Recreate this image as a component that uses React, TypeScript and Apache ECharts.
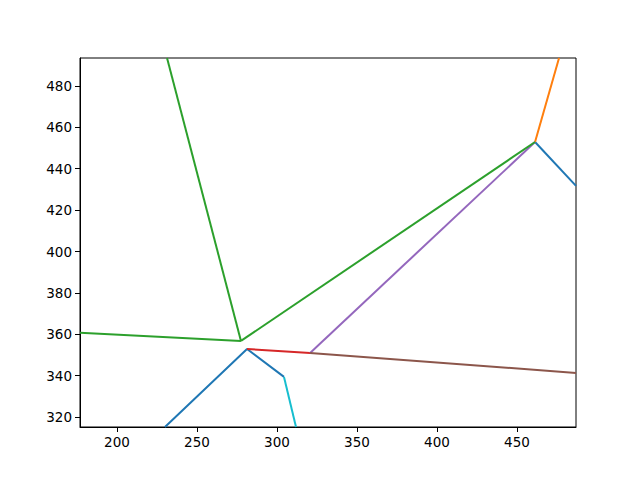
import React, { useEffect, useRef } from "react";
import * as echarts from "echarts";

const xTicks = [200, 250, 300, 350, 400, 450];
const yTicks = [320, 340, 360, 380, 400, 420, 440, 460, 480];
const xRange = [176.9, 486.9];
const yRange = [315.2, 493.5];

const blueA = [[230.0, 315.2], [281.3, 352.9], [304.4, 339.4]];
const cyanA = [[304.4, 339.4], [311.9, 315.2]];
const blueB = [[461.3, 452.9], [486.9, 431.7]];
const orangeA = [[461.3, 452.9], [476.3, 493.5]];
const greenA = [[176.9, 360.7], [277.5, 356.8]];
const greenB = [[231.3, 493.5], [277.5, 356.8]];
const greenC = [[277.5, 356.8], [461.3, 452.9]];
const redA = [[281.3, 352.9], [320.7, 351.0]];
const purpleA = [[320.7, 351.0], [461.3, 452.9]];
const brownA = [[320.7, 351.0], [486.9, 341.3]];

const segments: { name: string; data: number[][]; color: string }[] = [
  { name: "blueA", data: blueA, color: "#1f77b4" },
  { name: "cyanA", data: cyanA, color: "#17becf" },
  { name: "blueB", data: blueB, color: "#1f77b4" },
  { name: "orangeA", data: orangeA, color: "#ff7f0e" },
  { name: "redA", data: redA, color: "#d62728" },
  { name: "purpleA", data: purpleA, color: "#9467bd" },
  { name: "brownA", data: brownA, color: "#8c564b" },
  { name: "greenA", data: greenA, color: "#2ca02c" },
  { name: "greenB", data: greenB, color: "#2ca02c" },
  { name: "greenC", data: greenC, color: "#2ca02c" },
];

export default function App() {
  const ref = useRef<HTMLDivElement>(null);
  useEffect(() => {
    if (!ref.current) return;
    const chart = echarts.init(ref.current, undefined, { renderer: "svg" });
    const font = { fontFamily: "DejaVu Sans", fontSize: 13.5, color: "#000" };
    chart.setOption({
      animation: false,
      backgroundColor: "#fff",
      grid: {
        left: 80,
        right: 64,
        top: 58,
        bottom: 53,
        show: true,
        borderColor: "#000",
        borderWidth: 1,
        backgroundColor: "transparent",
      },
      xAxis: {
        type: "value",
        min: xRange[0],
        max: xRange[1],
        splitLine: { show: false },
        axisLine: { show: true, onZero: false, lineStyle: { color: "#000", width: 1 } },
        axisTick: { show: true, length: 5, customValues: xTicks, lineStyle: { color: "#000" } },
        axisLabel: { ...font, margin: 8, customValues: xTicks, formatter: (v: number) => String(v) },
      },
      yAxis: {
        type: "value",
        min: yRange[0],
        max: yRange[1],
        splitLine: { show: false },
        axisLine: { show: true, onZero: false, lineStyle: { color: "#000", width: 1 } },
        axisTick: { show: true, length: 5, customValues: yTicks, lineStyle: { color: "#000" } },
        axisLabel: { ...font, margin: 8, customValues: yTicks, formatter: (v: number) => String(v) },
      },
      series: segments.map((s) => ({
        name: s.name,
        type: "line",
        data: s.data,
        showSymbol: false,
        symbol: "none",
        clip: true,
        lineStyle: { color: s.color, width: 2 },
        itemStyle: { color: s.color },
      })),
    });
    return () => chart.dispose();
  }, []);
  return (
    <div
      ref={ref}
      style={{ position: "fixed", left: 0, top: 0, width: 640, height: 480 }}
    />
  );
}
